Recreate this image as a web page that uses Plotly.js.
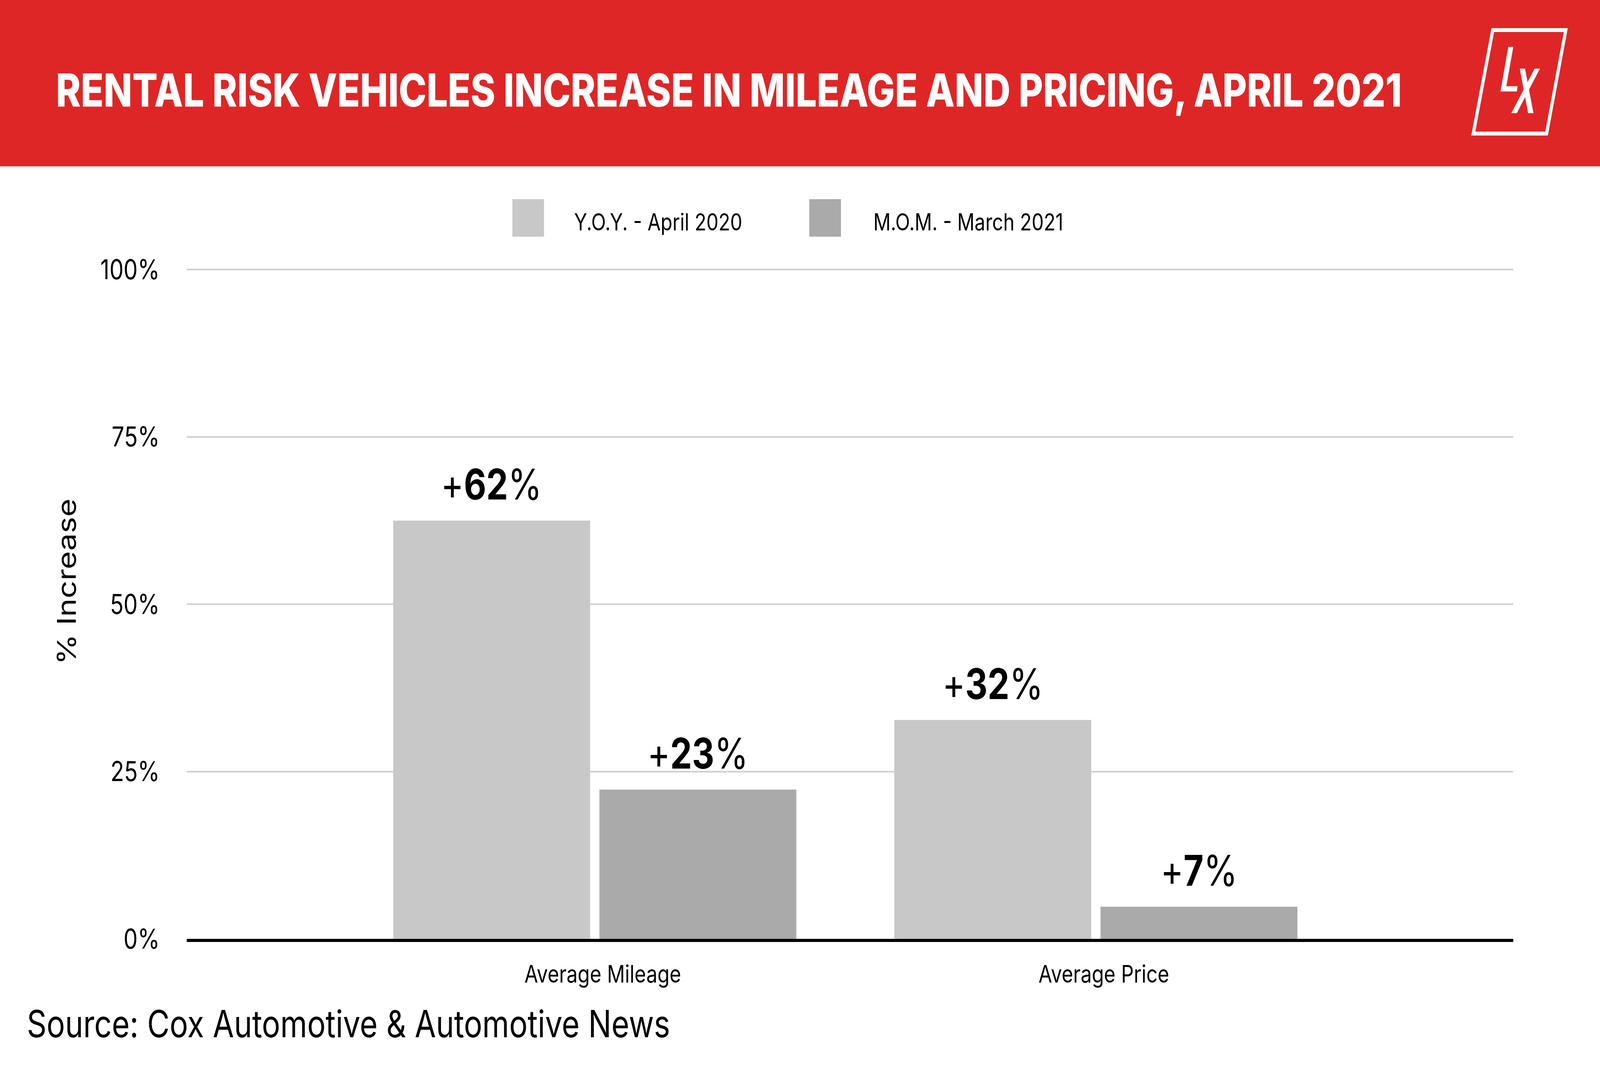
<!DOCTYPE html>
<html>
<head>
<meta charset="utf-8">
<script src="https://cdn.plot.ly/plotly-3.0.1.min.js"></script>
<style>html,body{margin:0;padding:0;background:#fff;overflow:hidden;}#chart{width:5000px;height:2727px;transform-origin:0 0;}</style>
</head>
<body>
<div id="chart"></div>
<script>
// ---- data ----
const categories = ["Average Mileage", "Average Price"];
const seriesNames = ["Y.O.Y. - April 2020", "M.O.M. - March 2021"];
const yoyValues = [62.5, 32.7];
const momValues = [22.3, 4.8];
const yoyLabels = ["62", "32"];
const momLabels = ["23", "7"];
const yTickVals = [0, 25, 50, 75, 100];
const yTickText = ["0%", "25%", "50%", "75%", "100%"];
const titleText = "RENTAL RISK VEHICLES INCREASE IN MILEAGE AND PRICING, APRIL 2021";
const sourceText = "Source: Cox Automotive &amp; Automotive News";
const yTitle = "% Increase";

// ---- layout constants (reference pixels, 5000 x 2727) ----
const W = 5000, H = 2727;
const M = {l: 584, r: 271, t: 686, b: 323, pad: 0};
const pw = W - M.l - M.r, ph = H - M.t - M.b;
const px = x => (x - M.l) / pw;
const py = y => (H - M.b - y) / ph;
const FONT = "Inter, 'Open Sans', sans-serif";
const RED = "#df2626";
const colors = ["#c8c8c8", "#aaaaaa"];
const bargap = 0.177, bargroupgap = 0.045;
const xRange = [-0.814, 1.833];

// fit the fixed-size drawing to the actual browser window
const chartDiv = document.getElementById("chart");
const vw = window.innerWidth || W, vh = window.innerHeight || H;
chartDiv.style.transform = "scale(" + (vw / W) + "," + (vh / H) + ")";

function pathFromPx(pts) {
  return pts.map((p, i) => (i ? "L" : "M") + px(p[0]).toFixed(5) + "," + py(p[1]).toFixed(5)).join(" ") + " Z";
}

const traces = [
  {type: "bar", name: seriesNames[0], x: categories, y: yoyValues, marker: {color: colors[0]}, hoverinfo: "skip", showlegend: false},
  {type: "bar", name: seriesNames[1], x: categories, y: momValues, marker: {color: colors[1]}, hoverinfo: "skip", showlegend: false}
];

const half = (1 - bargap) / 4;
const annotations = [];
categories.forEach((c, i) => {
  [[yoyValues, yoyLabels, -half], [momValues, momLabels, half]].forEach(([vals, labs, off]) => {
    annotations.push({
      x: i + off, y: vals[i], xref: "x", yref: "y", showarrow: false,
      yanchor: "bottom", xanchor: "center", yshift: 26,
      text: "+<b>" + labs[i] + "</b>%",
      font: {family: FONT, size: 108, color: "#000"}
    });
  });
});

// legend (swatches + text)
const shapes = [];
const legendSw = [[1601, 1700], [2529, 2628]];
const legendTx = [1792, 2727];
seriesNames.forEach((n, i) => {
  shapes.push({type: "rect", xref: "paper", yref: "paper", x0: px(legendSw[i][0]), x1: px(legendSw[i][1]),
    y0: py(606), y1: py(510), fillcolor: colors[i], line: {width: 0}});
  annotations.push({xref: "paper", yref: "paper", x: px(legendTx[i]), y: py(568), xanchor: "left", yanchor: "middle",
    showarrow: false, text: n, font: {family: FONT, size: 60, color: "#000"}});
});

// y-axis title
annotations.push({xref: "paper", yref: "paper", x: px(207), y: py(1489), xanchor: "center", yanchor: "middle",
  textangle: -90, showarrow: false, text: yTitle, font: {family: FONT, size: 80, color: "#000"}});

// header band
shapes.push({type: "rect", xref: "paper", yref: "paper", x0: px(0), x1: px(W), y0: py(426), y1: py(0),
  fillcolor: RED, line: {width: 0}, layer: "below"});
// logo
shapes.push({type: "path", xref: "paper", yref: "paper",
  path: pathFromPx([[4665, 77], [4893, 77], [4833, 342], [4604, 342]]),
  line: {color: "#fff", width: 10}, fillcolor: "rgba(0,0,0,0)"});
shapes.push({type: "path", xref: "paper", yref: "paper",
  path: pathFromPx([[4713.3, 120], [4729, 120], [4707.3, 220.7], [4742.7, 220.7], [4740, 234.3], [4689, 234.3]]),
  line: {width: 0}, fillcolor: "#fff"});
shapes.push({type: "path", xref: "paper", yref: "paper",
  path: pathFromPx([[4749.3, 175.7], [4765.7, 175.7], [4792, 289.7], [4775.3, 289.7]]),
  line: {width: 0}, fillcolor: "#fff"});
shapes.push({type: "path", xref: "paper", yref: "paper",
  path: pathFromPx([[4795.7, 175.7], [4812.3, 175.7], [4740, 289.7], [4723, 289.7]]),
  line: {width: 0}, fillcolor: "#fff"});

// source
annotations.push({xref: "paper", yref: "paper", x: px(82), y: py(2621), xanchor: "left", yanchor: "middle",
  showarrow: false, text: sourceText, font: {family: FONT, size: 96, color: "#000"}});

const layout = {
  width: W, height: H,
  margin: M,
  paper_bgcolor: "#fff", plot_bgcolor: "#fff",
  font: {family: FONT, color: "#000"},
  title: {text: titleText, x: 175 / W, xanchor: "left", xref: "container", yref: "container",
    y: 1 - 232 / H, yanchor: "middle", font: {family: FONT, size: 117, color: "#fff", weight: 800}},
  barmode: "group", bargap: bargap, bargroupgap: bargroupgap,
  showlegend: false,
  xaxis: {type: "category", range: xRange, showgrid: false, zeroline: false, showline: true,
    linecolor: "#000", linewidth: 8, ticks: "outside", ticklen: 30, tickcolor: "rgba(0,0,0,0)",
    ticklabelshift: 25,
    tickfont: {family: FONT, size: 62, color: "#000"}, fixedrange: true},
  yaxis: {range: [0, 100.25], tickvals: yTickVals, ticktext: yTickText, showgrid: true, gridcolor: "#cfcfcf",
    gridwidth: 4, zeroline: false, showline: false, ticks: "outside", ticklen: 70, tickcolor: "rgba(0,0,0,0)",
    tickfont: {family: FONT, size: 70, color: "#000"}, fixedrange: true},
  shapes: shapes,
  annotations: annotations
};

Plotly.newPlot(chartDiv, traces, layout, {displayModeBar: false, staticPlot: true});
</script>
</body>
</html>
